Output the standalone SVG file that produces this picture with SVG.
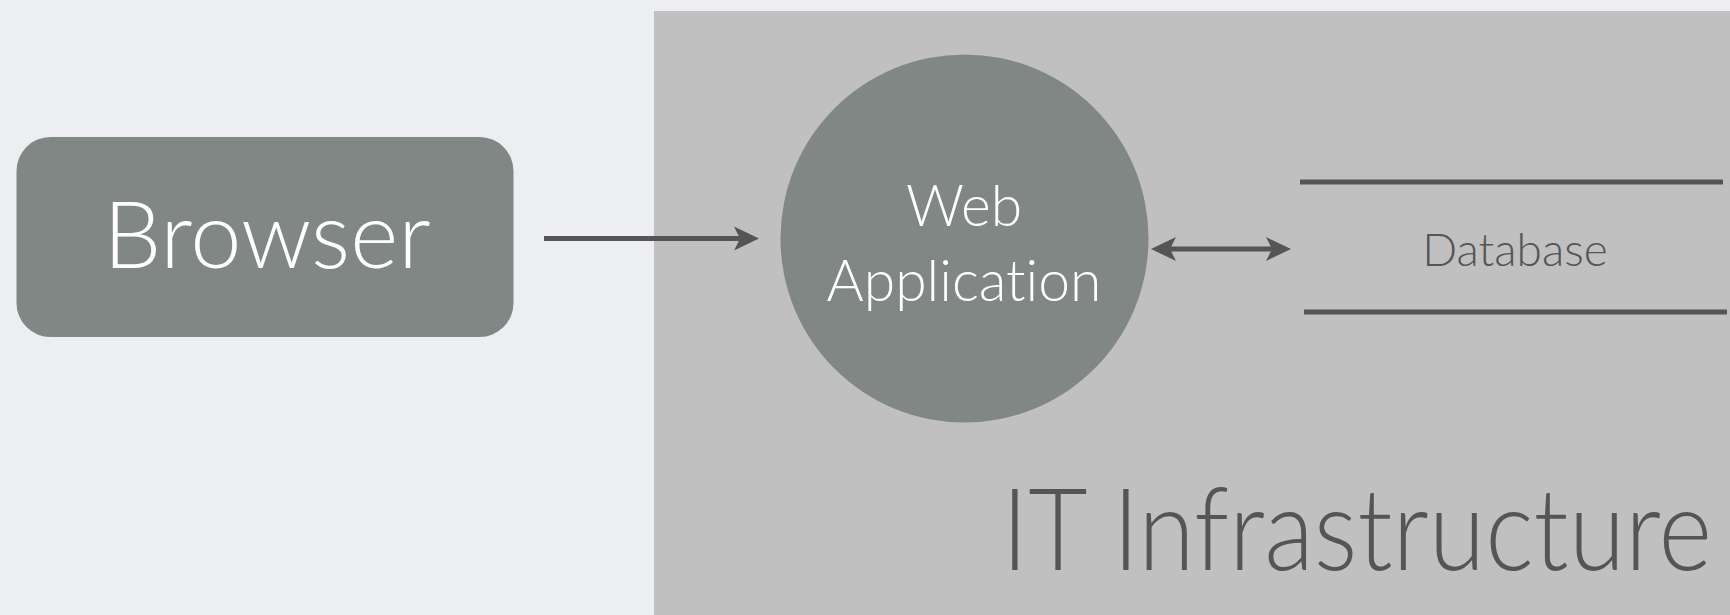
<svg xmlns="http://www.w3.org/2000/svg" width="1730" height="615" viewBox="0 0 1730 615">
  <style>
    .node { fill: #818784; }
    .label-light { fill: #ffffff; font-family: Lato, "Open Sans", "Liberation Sans", sans-serif; font-weight: 300; font-variant-ligatures: none; }
    .label-dark { fill: #555555; font-family: Lato, "Open Sans", "Liberation Sans", sans-serif; font-weight: 300; font-variant-ligatures: none; }
    .wire { stroke: #555555; stroke-width: 5; fill: none; }
    .rule { stroke: #555555; stroke-width: 5; }
  </style>
  <defs>
    <marker id="head" markerUnits="userSpaceOnUse" viewBox="-26 -13 27 26" refX="-6" refY="0" markerWidth="27" markerHeight="26" orient="auto-start-reverse">
      <path d="M0 0 L-25 -12 L-19 0 L-25 12 Z" fill="#555555"/>
    </marker>
  </defs>

  <!-- page background -->
  <rect x="0" y="0" width="1730" height="615" fill="#ECEEF1"/>

  <!-- infrastructure boundary -->
  <g id="it-infrastructure">
    <rect x="654" y="11" width="1076" height="604" fill="#C0C0C0"/>
    <text class="label-dark" transform="translate(1712 570) scale(0.9 1)" x="0" y="0" font-size="114" text-anchor="end">IT Infrastructure</text>
  </g>

  <g id="browser">
    <rect class="node" x="16.5" y="137" width="497" height="200" rx="34" ry="34"/>
    <text class="label-light" x="267" y="268" font-size="92" text-anchor="middle">Browser</text>
  </g>

  <g id="web-application">
    <circle class="node" cx="964.5" cy="238.5" r="184"/>
    <text class="label-light" x="964" y="226" font-size="57" text-anchor="middle">Web</text>
    <text class="label-light" x="964" y="301" font-size="57" text-anchor="middle">Application</text>
  </g>

  <g id="database">
    <line class="rule" x1="1300" y1="182" x2="1723" y2="182"/>
    <line class="rule" x1="1304" y1="312" x2="1727" y2="312"/>
    <text class="label-dark" x="1515" y="266" font-size="46" text-anchor="middle">Database</text>
  </g>

  <g id="connectors">
    <line class="wire" x1="544" y1="238.5" x2="753" y2="238.5" marker-end="url(#head)"/>
    <line class="wire" x1="1157" y1="249" x2="1285" y2="249" stroke-width="4.5" marker-start="url(#head)" marker-end="url(#head)"/>
  </g>
</svg>
